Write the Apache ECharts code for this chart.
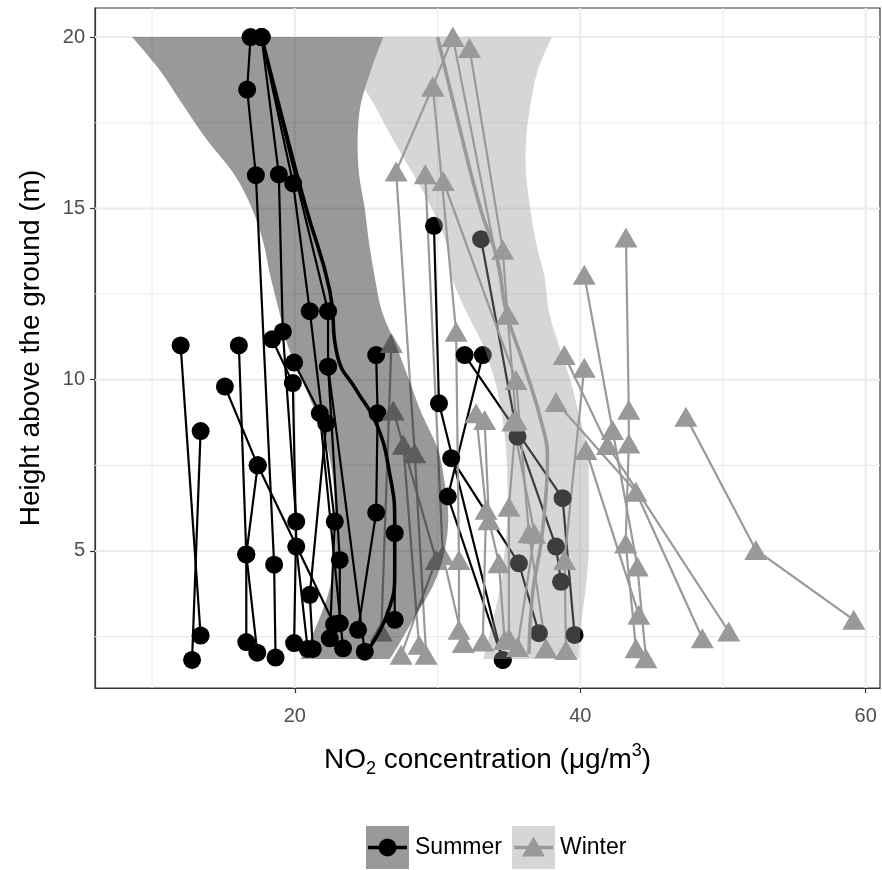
<!DOCTYPE html>
<html><head><meta charset="utf-8">
<script src="https://cdn.jsdelivr.net/npm/echarts@6/dist/echarts.min.js"></script>
<style>html,body{margin:0;padding:0;background:#fff}#c{width:882px;height:870px}</style>
</head><body><div id="c"></div>
<script>
// ---- axis ticks ----
const xTicks = [20, 40, 60];
const xMinor = [10, 30, 50];
const yTicks = [5, 10, 15, 20];
const yMinor = [2.5, 7.5, 12.5, 17.5];
const xRange = [6, 61];
const yRange = [1.0, 20.85];

// ---- Summer profiles: [NO2, height] ----
const summerProfiles = [
  [[12.0,11.0],[13.4,2.53]],
  [[13.4,8.5],[12.8,1.82]],
  [[16.08,11.0],[16.6,4.9],[16.6,2.34]],
  [[15.1,9.8],[17.4,7.5],[22.75,2.86]],
  [[17.4,7.5],[16.6,4.9],[17.37,2.03]],
  [[16.9,20.0],[16.66,18.47],[17.27,15.97],[18.55,4.6],[18.65,1.89]],
  [[17.67,20.0],[18.88,15.99],[19.16,11.4],[20.1,5.86],[19.95,2.31]],
  [[17.67,20.0],[19.88,15.73],[21.05,12.0],[22.8,5.86],[22.45,2.45]],
  [[17.67,20.0],[22.33,12.0],[22.33,10.38],[23.15,4.74],[23.15,2.89]],
  [[18.41,11.18],[19.86,9.9],[20.1,5.13],[20.9,2.14]],
  [[22.2,8.73],[21.05,3.72],[21.26,2.14]],
  [[19.95,10.5],[21.75,9.02],[23.38,2.16]],
  [[22.33,10.38],[24.9,2.06]],
  [[25.7,10.72],[25.8,9.02],[25.7,6.12],[24.43,2.7]],
  [[27.0,5.52],[27.0,2.99]],
  [[29.75,14.49],[30.1,9.31],[34.57,1.82]],
  [[30.96,7.71],[35.7,4.64],[37.1,2.6]],
  [[33.05,14.1],[35.6,8.34],[38.3,5.13],[38.65,4.1]],
  [[31.9,10.72],[38.76,6.54],[39.6,2.55]],
  [[33.17,10.72],[30.72,6.59],[34.57,1.82]]
];

// ---- Winter profiles: [NO2, height] ----
const winterProfiles = [
  [[31.07,20.0],[29.67,18.56],[27.1,16.08],[28.4,7.85],[29.2,1.97]],
  [[29.67,18.56],[31.3,11.4],[31.5,4.74],[31.5,2.7]],
  [[29.14,16.0],[30.37,4.88],[31.8,2.31]],
  [[30.4,15.8],[35.5,9.99],[36.4,5.52],[37.6,2.16]],
  [[32.24,19.68],[34.57,13.79],[34.9,11.9],[35.5,8.82],[35.0,6.29],[35.0,2.45]],
  [[31.07,20.0],[34.9,11.9]],
  [[26.77,11.07],[26.06,2.65]],
  [[26.9,9.1],[29.9,4.74],[27.45,1.97]],
  [[27.6,8.1],[28.7,2.26]],
  [[32.7,9.02],[33.4,6.2],[33.17,2.36]],
  [[33.3,8.82],[33.6,5.9],[34.3,4.64],[34.7,2.4]],
  [[35.27,8.78],[36.8,5.5],[35.6,2.2]],
  [[38.88,10.72],[41.9,8.09],[50.4,2.65]],
  [[38.3,9.35],[43.9,6.73],[48.55,2.45]],
  [[40.28,10.35],[38.9,4.74],[39.0,2.11]],
  [[40.28,13.06],[42.26,8.53],[44.0,4.55],[44.6,1.87]],
  [[43.2,14.15],[43.4,9.12],[43.4,8.14],[43.18,5.22],[43.9,2.16]],
  [[40.4,7.95],[44.1,3.14]],
  [[47.4,8.92],[52.3,5.03],[59.16,2.99]]
];

// ---- smooth fits (height vs concentration) ----
const summerFit = [[17.67,20],[19.2,17.5],[20.8,15],[22.45,12.6],[23.0,10.67],[24.3,9.7],[25.7,8.73],[26.64,7.27],[27.0,5.81],[27.0,4.36],[26.4,3.08],[25.0,2.05]];
const winterFit = [[30.0,20],[31.4,17.6],[33.0,15],[34.2,13.5],[34.8,12],[36.0,10.5],[37.36,8.63],[37.7,7.66],[37.6,6.69],[37.25,5.23],[36.66,3.77],[36.4,2.0]];

// ---- confidence ribbons ----
const ribbonY   = [20, 19, 18, 17, 16, 15, 14, 13, 12, 11, 10, 9, 8, 7, 6, 5, 4, 3, 2, 1.85];
const summerLow = [8.6, 10.6, 12.2, 13.85, 15.75, 17.0, 17.8, 18.3, 18.9, 19.5, 20.5, 21.5, 22.3, 22.7, 22.8, 22.8, 22.5, 21.7, 20.6, 20.4];
const summerHigh= [26.2, 25.3, 24.6, 24.4, 24.5, 24.9, 25.2, 25.6, 26.1, 27.1, 28.0, 28.9, 30.0, 30.5, 30.75, 30.5, 29.7, 28.3, 26.9, 26.6];
const winterLow = [23.0, 24.2, 25.6, 26.9, 28.3, 29.6, 30.6, 31.0, 32.0, 33.2, 34.0, 34.5, 34.8, 34.9, 34.9, 34.7, 34.4, 33.9, 33.3, 33.2];
const winterHigh= [38.0, 37.0, 36.5, 36.2, 36.2, 36.5, 36.9, 37.5, 37.8, 38.5, 39.3, 39.9, 40.5, 40.6, 40.6, 40.6, 40.4, 40.1, 39.9, 39.9];

const chart = echarts.init(document.getElementById('c'), null, {renderer: 'canvas'});
const FONT = 'Liberation Sans, Arial, sans-serif';

// ribbon: each edge is drawn as a smoothed curve through the edge values,
// the two edges joined by straight top and bottom segments.
function ribbonItem(lo, hi, ys, fill) {
  return function (params, api) {
    if (params.dataIndex !== 0) return null;
    const L = ys.map((y, i) => api.coord([lo[i], y]));
    const R = ys.map((y, i) => api.coord([hi[i], y])).reverse();
    function curve(pts, move) {
      let d = (move ? 'M' : 'L') + pts[0][0] + ' ' + pts[0][1];
      for (let i = 0; i < pts.length - 1; i++) {
        const p0 = pts[Math.max(0, i - 1)], p1 = pts[i], p2 = pts[i + 1], p3 = pts[Math.min(pts.length - 1, i + 2)];
        const c1 = [p1[0] + (p2[0] - p0[0]) / 6, p1[1] + (p2[1] - p0[1]) / 6];
        const c2 = [p2[0] - (p3[0] - p1[0]) / 6, p2[1] - (p3[1] - p1[1]) / 6];
        d += ' C' + c1[0] + ' ' + c1[1] + ' ' + c2[0] + ' ' + c2[1] + ' ' + p2[0] + ' ' + p2[1];
      }
      return d;
    }
    const d = curve(L, true) + ' ' + curve(R, false) + ' Z';
    return {type: 'path', shape: {pathData: d}, style: {fill: fill}};
  };
}

const series = [];
// panel grid lines (drawn first, under everything)
function gridLine(data, w) {
  return {type: 'line', data: data, symbol: 'none', silent: true, z: 0,
          lineStyle: {color: '#ebebeb', width: w}};
}
xMinor.forEach(v => series.push(gridLine([[v, yRange[0]], [v, yRange[1]]], 1.1)));
yMinor.forEach(v => series.push(gridLine([[xRange[0], v], [xRange[1], v]], 1.1)));
xTicks.forEach(v => series.push(gridLine([[v, yRange[0]], [v, yRange[1]]], 2)));
yTicks.forEach(v => series.push(gridLine([[xRange[0], v], [xRange[1], v]], 2)));

// profile lines
summerProfiles.forEach(p => series.push({
  type: 'line', data: p, showSymbol: false, symbol: 'none', silent: true, z: 1,
  lineStyle: {color: '#000', width: 2.2}
}));
winterProfiles.forEach(p => series.push({
  type: 'line', data: p, showSymbol: false, symbol: 'none', silent: true, z: 1,
  lineStyle: {color: '#999', width: 2.2}
}));
// points
series.push({
  type: 'scatter', data: summerProfiles.flat(), symbol: 'circle', symbolSize: 18, z: 2,
  itemStyle: {color: '#000', opacity: 1}, silent: true
});
series.push({
  type: 'scatter', data: winterProfiles.flat(), symbol: 'triangle', symbolSize: [23, 20], z: 2,
  itemStyle: {color: '#999', opacity: 1}, silent: true
});
// ribbons + fits
series.push({
  type: 'custom', z: 3, silent: true, data: ribbonY.map((y, i) => [summerLow[i], y]),
  renderItem: ribbonItem(summerLow, summerHigh, ribbonY, 'rgba(0,0,0,0.4)')
});
series.push({
  type: 'line', data: summerFit, smooth: 0.5, symbol: 'none', z: 4, silent: true,
  lineStyle: {color: '#000', width: 3.6}
});
series.push({
  type: 'custom', z: 5, silent: true, data: ribbonY.map((y, i) => [winterLow[i], y]),
  renderItem: ribbonItem(winterLow, winterHigh, ribbonY, 'rgba(153,153,153,0.4)')
});
series.push({
  type: 'line', data: winterFit, smooth: 0.5, symbol: 'none', z: 6, silent: true,
  lineStyle: {color: '#999', width: 3.6}
});

const option = {
  animation: false,
  backgroundColor: '#fff',
  grid: {left: 95, right: 2, top: 8, bottom: 182, show: true, borderColor: '#333', borderWidth: 1.2, containLabel: false},
  xAxis: {
    type: 'value', min: xRange[0], max: xRange[1],
    axisLine: {show: true, lineStyle: {color: '#333', width: 1.2}},
    axisTick: {show: true, length: 5, customValues: xTicks, lineStyle: {color: '#333', width: 1.2}},
    axisLabel: {customValues: xTicks, fontSize: 20, color: '#4d4d4d', fontFamily: FONT, margin: 18},
    splitLine: {show: false}, minorSplitLine: {show: false},
    name: 'NO{sub|2} concentration (μg/m{sup|3})',
    nameLocation: 'middle', nameGap: 54,
    nameTextStyle: {
      fontSize: 28, color: '#000', fontFamily: FONT, lineHeight: 36,
      rich: {
        sub: {fontSize: 18, fontFamily: FONT, color: '#000', lineHeight: 18, verticalAlign: 'bottom'},
        sup: {fontSize: 18, fontFamily: FONT, color: '#000', lineHeight: 18, verticalAlign: 'top'}
      }
    }
  },
  yAxis: {
    type: 'value', min: yRange[0], max: yRange[1],
    axisLine: {show: true, lineStyle: {color: '#333', width: 1.2}},
    axisTick: {show: true, length: 5, customValues: yTicks, lineStyle: {color: '#333', width: 1.2}},
    axisLabel: {customValues: yTicks, fontSize: 20, color: '#4d4d4d', fontFamily: FONT, margin: 10},
    splitLine: {show: false},
    name: 'Height above the ground (m)', nameLocation: 'middle', nameGap: 50, nameRotate: 90,
    nameTextStyle: {fontSize: 28, color: '#000', fontFamily: FONT}
  },
  graphic: [
    {type: 'rect', shape: {x: 366, y: 826, width: 43, height: 43}, style: {fill: '#999'}},
    {type: 'line', shape: {x1: 368, y1: 847.5, x2: 407, y2: 847.5}, style: {stroke: '#000', lineWidth: 3.6}},
    {type: 'circle', shape: {cx: 387.5, cy: 847.5, r: 9}, style: {fill: '#000'}},
    {type: 'text', x: 415, y: 847.5, style: {text: 'Summer', fontSize: 23, fontFamily: FONT, fill: '#000', verticalAlign: 'middle', align: 'left'}},
    {type: 'rect', shape: {x: 512, y: 826, width: 43, height: 43}, style: {fill: '#d6d6d6'}},
    {type: 'line', shape: {x1: 514, y1: 847.5, x2: 553, y2: 847.5}, style: {stroke: '#999', lineWidth: 3.6}},
    {type: 'polygon', shape: {points: [[533.5, 836.5], [545, 856.5], [522, 856.5]]}, style: {fill: '#999'}},
    {type: 'text', x: 560, y: 847.5, style: {text: 'Winter', fontSize: 23, fontFamily: FONT, fill: '#000', verticalAlign: 'middle', align: 'left'}}
  ],
  series: series
};
chart.setOption(option);
</script>
</body></html>
